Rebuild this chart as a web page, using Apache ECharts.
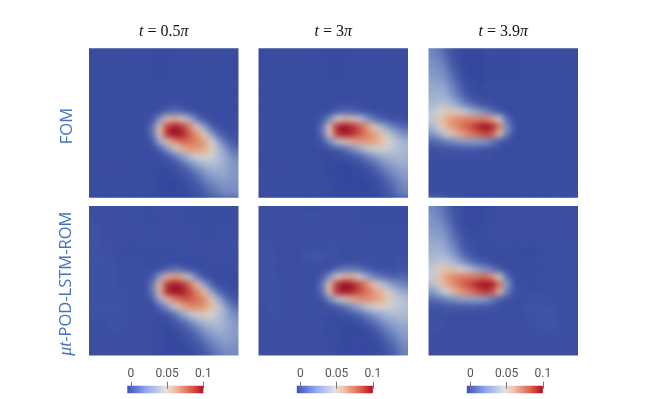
<!DOCTYPE html>
<html><head><meta charset="utf-8">
<style>html,body{margin:0;padding:0;background:#fff}#c{width:660px;height:399px}</style>
<script src="https://cdn.jsdelivr.net/npm/echarts@6/dist/echarts.min.js"></script>
</head><body><div id="c"></div>
<script>
// values in thousandths (100 = 0.1), rows top to bottom
const fomHalfPi=[
[2,2,2,2,2,2,2,2,2,2,2,2,2,2,2,2,2,2,2,2],
[2,2,2,2,2,2,2,2,2,2,2,2,2,2,2,2,2,2,2,2],
[2,2,2,2,2,2,2,2,2,2,2,2,2,2,2,2,2,2,2,2],
[2,2,2,2,2,2,2,2,2,2,2,2,2,2,2,2,2,2,2,2],
[2,2,2,2,2,2,2,2,2,2,2,2,2,2,2,2,2,2,2,2],
[2,2,2,2,2,2,2,2,2,2,2,2,2,2,2,2,2,2,2,2],
[2,2,2,2,2,2,2,2,2,2,2,2,2,2,2,2,2,2,2,2],
[2,2,2,2,2,2,2,2,2,2,3,3,3,2,2,2,2,2,2,2],
[2,2,2,2,2,2,2,2,2,3,12,15,12,6,3,2,2,2,2,2],
[2,2,2,2,2,2,2,2,6,26,56,62,54,38,16,5,2,2,2,2],
[2,2,2,2,2,2,2,2,16,56,86,96,88,72,52,28,9,3,2,2],
[2,2,2,2,2,2,2,2,16,56,90,100,94,80,68,52,28,11,4,3],
[2,2,2,2,2,2,2,2,6,34,58,70,78,76,72,66,50,28,13,6],
[2,2,2,2,2,2,2,2,2,11,28,46,60,67,68,64,54,38,24,13],
[2,2,2,2,2,2,2,2,2,2,7,16,30,42,50,52,48,40,30,22],
[2,2,2,2,2,2,2,2,2,2,3,6,13,23,33,39,41,38,32,26],
[2,2,2,2,2,2,2,2,2,1,1,2,6,11,20,28,33,34,31,27],
[2,2,2,2,2,2,2,2,2,1,0,1,3,6,12,20,26,29,29,26],
[2,2,2,2,2,2,2,2,2,1,0,0,1,4,7,13,19,24,26,25],
[2,2,2,2,2,2,2,2,2,1,0,0,1,2,4,8,14,19,22,23]];
const fom3Pi=[
[2,2,2,2,2,2,2,2,2,2,2,2,2,2,2,2,2,2,2,2],
[2,2,2,2,2,2,2,2,2,2,2,2,2,2,2,2,2,2,2,2],
[2,2,2,2,2,2,2,2,2,2,2,2,2,2,2,2,2,2,2,2],
[2,2,2,2,2,2,2,2,2,2,2,2,2,2,2,2,2,2,2,2],
[2,2,2,2,2,2,2,2,2,2,2,2,2,2,2,2,2,2,2,2],
[2,2,2,2,2,2,2,2,2,2,2,2,2,2,2,2,2,2,2,2],
[2,2,2,2,2,2,2,2,2,2,2,2,2,2,2,2,2,2,2,2],
[2,2,2,2,2,2,2,2,2,2,3,3,3,3,2,2,2,2,2,2],
[2,2,2,2,2,2,2,2,2,3,9,13,11,7,4,3,3,2,2,2],
[2,2,2,2,2,2,2,2,5,22,50,58,56,46,30,16,9,5,4,3],
[2,2,2,2,2,2,2,2,14,56,90,100,92,82,68,54,38,25,17,12],
[2,2,2,2,2,2,2,2,13,54,86,96,90,82,74,66,56,44,32,24],
[2,2,2,2,2,2,2,2,5,22,42,54,62,66,68,66,60,50,42,36],
[2,2,2,2,2,2,2,2,2,4,8,14,24,34,44,48,49,46,42,38],
[2,2,2,2,2,2,2,2,2,1,2,4,7,12,19,27,33,37,38,37],
[2,2,2,2,2,2,2,2,2,1,1,0,2,4,8,15,23,29,33,34],
[2,2,2,2,2,2,2,2,2,1,1,0,0,1,3,7,14,21,27,30],
[2,2,2,2,2,2,2,2,2,2,1,0,0,0,1,3,8,15,21,27],
[2,2,2,2,2,2,2,2,2,2,1,1,0,0,0,1,4,10,17,23],
[2,2,2,2,2,2,2,2,2,2,1,1,0,0,0,1,2,7,13,20]];
const fom39Pi=[
[22,18,10,4,1,1,1,2,2,2,2,2,2,2,2,2,2,2,2,2],
[24,21,13,5,1,0,0,1,2,2,2,2,2,2,2,2,2,2,2,2],
[26,24,17,7,2,0,0,1,2,2,2,2,2,2,2,2,2,2,2,2],
[28,27,21,11,3,1,1,1,2,2,2,2,2,2,2,2,2,2,2,2],
[31,30,25,15,6,2,1,1,2,2,2,2,2,2,2,2,2,2,2,2],
[33,34,29,20,9,3,1,2,2,2,2,2,2,2,2,2,2,2,2,2],
[36,37,34,25,14,6,3,2,2,2,2,2,2,2,2,2,2,2,2,2],
[38,41,41,35,25,16,9,5,2,2,2,2,2,2,2,2,2,2,2,2],
[44,50,54,54,48,40,32,25,16,7,2,2,2,2,2,2,2,2,2,2],
[44,56,64,70,72,72,72,72,64,48,15,3,2,2,2,2,2,2,2,2],
[38,52,62,70,76,82,90,100,96,74,28,4,2,2,2,2,2,2,2,2],
[26,36,48,58,66,72,78,84,80,56,20,3,2,2,2,2,2,2,2,2],
[12,15,20,24,28,30,30,28,20,8,3,2,2,2,2,2,2,2,2,2],
[4,5,6,6,7,7,6,5,4,3,2,2,2,2,2,2,2,2,2,2],
[3,3,3,3,3,3,3,3,3,2,2,2,2,2,2,2,2,2,2,2],
[2,2,2,2,2,2,2,2,2,2,2,2,2,2,2,2,2,2,2,2],
[2,2,2,2,2,2,2,2,2,2,2,2,2,2,2,2,2,2,2,2],
[2,2,2,2,2,2,2,2,2,2,2,2,2,2,2,2,2,2,2,2],
[2,2,2,2,2,2,2,2,2,2,2,2,2,2,2,2,2,2,2,2],
[2,2,2,2,2,2,2,2,2,2,2,2,2,2,2,2,2,2,2,2]];
const romHalfPi=[
[3,3,2,3,3,3,2,2,2,3,3,3,2,2,2,2,2,2,2,2],
[3,3,3,3,3,3,3,3,2,3,3,3,3,2,2,2,2,2,2,2],
[4,4,3,3,3,3,3,3,2,3,3,3,3,3,2,2,2,2,2,3],
[4,4,3,3,3,3,3,3,3,3,3,3,3,3,3,2,2,3,3,3],
[4,4,3,3,3,3,3,3,3,3,3,3,3,3,3,3,3,3,3,3],
[4,4,3,3,3,2,2,3,3,3,3,3,3,3,3,3,3,3,3,3],
[4,4,4,3,3,2,2,2,3,3,3,3,3,3,3,3,3,3,3,3],
[4,4,4,3,3,3,3,3,2,2,2,1,1,1,2,2,3,3,3,3],
[4,4,4,4,3,3,3,3,3,4,12,16,12,6,3,2,2,2,2,2],
[4,4,4,4,3,3,3,3,8,30,60,66,58,42,18,5,2,2,2,2],
[4,4,4,4,3,3,3,3,18,60,88,96,90,76,56,30,10,3,2,2],
[4,4,4,4,4,3,3,3,18,60,92,100,96,84,72,56,30,12,5,3],
[4,4,4,4,4,3,3,3,9,36,60,72,80,80,76,70,54,32,14,7],
[4,4,4,4,4,3,3,3,3,12,28,46,62,70,72,68,58,42,26,14],
[4,4,4,4,4,3,3,3,3,3,7,16,32,44,52,54,50,42,32,23],
[3,3,4,4,4,3,3,3,3,2,3,6,13,23,33,40,42,39,33,27],
[3,3,3,4,4,3,3,3,3,2,1,2,6,11,20,28,34,36,33,29],
[3,3,3,3,3,3,3,3,3,2,1,1,3,6,12,20,27,31,31,28],
[3,3,3,3,3,3,3,3,3,2,1,0,1,4,7,13,20,25,28,26],
[3,3,3,3,3,3,3,3,3,2,1,1,1,2,4,8,14,20,23,24]];
const rom3Pi=[
[3,3,3,3,3,2,2,2,2,3,3,3,2,2,2,2,2,2,2,2],
[3,3,3,3,3,3,3,3,3,3,3,3,3,2,2,2,2,2,2,2],
[3,3,3,3,3,3,3,3,3,3,3,3,3,3,2,2,2,2,3,3],
[3,3,3,3,3,3,3,3,3,3,3,3,3,3,3,3,3,3,3,3],
[3,3,3,3,3,3,3,3,3,3,3,3,3,3,3,3,3,3,3,3],
[4,4,3,3,3,3,3,3,3,4,4,3,3,3,3,3,3,3,3,3],
[4,4,3,3,3,3,5,6,5,4,4,3,3,3,3,3,3,3,3,3],
[4,4,3,3,3,3,4,5,4,3,3,3,3,3,3,3,3,3,4,4],
[4,4,3,3,3,3,3,3,3,4,12,18,18,14,9,6,4,4,4,5],
[4,4,4,3,3,3,3,3,6,26,52,60,60,50,34,22,15,12,12,12],
[4,4,4,3,3,3,3,3,16,58,88,100,96,84,70,56,44,32,25,20],
[4,4,4,3,3,3,3,3,14,56,88,96,92,84,76,68,60,48,38,32],
[4,4,4,3,3,3,3,3,5,22,42,54,62,68,70,68,62,54,46,40],
[3,4,4,3,3,3,3,3,3,4,8,15,25,35,45,50,51,49,45,41],
[3,3,4,3,3,3,3,3,3,3,3,5,8,13,21,29,35,39,40,39],
[3,3,3,3,3,3,3,3,3,2,2,1,2,4,9,16,24,30,34,35],
[3,3,3,3,3,3,3,3,3,2,2,1,1,1,3,7,14,22,28,31],
[3,3,3,3,3,3,3,3,3,2,2,1,0,1,1,3,8,15,22,28],
[3,3,3,3,3,3,3,3,3,2,2,1,1,1,1,2,4,10,17,24],
[3,3,3,3,3,3,3,3,3,3,2,2,1,1,1,2,2,7,13,21]];
const rom39Pi=[
[23,19,12,5,2,1,1,1,2,2,3,3,3,3,3,3,3,3,3,3],
[25,22,14,6,2,1,1,1,2,3,3,3,3,3,3,3,3,3,3,3],
[27,25,18,8,3,1,1,2,2,3,3,3,3,3,3,3,3,3,3,3],
[29,28,22,12,4,2,2,2,3,3,3,3,3,3,3,3,3,3,3,3],
[32,31,26,16,7,3,2,2,3,3,3,3,3,3,3,3,3,3,3,3],
[34,35,30,21,10,4,2,2,2,3,3,2,2,2,2,3,3,3,3,3],
[37,38,35,27,15,7,3,2,2,2,2,2,2,1,2,3,3,3,3,3],
[40,43,43,37,27,17,10,6,3,2,2,2,2,2,2,3,3,3,3,3],
[46,54,56,56,50,42,34,27,18,8,3,2,2,2,2,3,3,3,3,3],
[46,58,66,72,74,74,74,76,68,50,16,3,2,2,3,3,3,3,3,3],
[40,54,64,72,78,84,92,100,98,76,30,5,3,3,3,3,3,3,3,3],
[28,38,50,60,68,74,80,86,82,58,22,5,3,3,3,3,3,3,3,3],
[14,17,22,26,30,32,32,30,22,9,4,3,3,4,4,4,3,3,3,3],
[5,6,7,7,8,8,7,6,5,4,3,3,3,4,5,5,4,3,3,3],
[4,4,4,3,3,3,3,3,3,3,3,3,3,4,5,6,5,3,3,3],
[4,4,3,3,3,3,3,3,3,3,3,3,3,4,4,5,5,4,3,3],
[4,4,3,3,3,3,3,3,3,3,3,3,3,3,4,4,4,3,3,3],
[3,3,3,3,3,3,3,3,3,3,3,3,3,3,3,3,3,3,3,3],
[3,3,3,3,3,3,3,3,3,3,3,3,3,3,3,3,3,3,3,3],
[3,3,3,3,3,3,3,3,3,3,3,3,3,3,3,3,3,3,3,3]];
const panelFields=[fomHalfPi,fom3Pi,fom39Pi,romHalfPi,rom3Pi,rom39Pi];
const timeLabels=['{i|t} = 0.5{i|π}','{i|t} = 3{i|π}','{i|t} = 3.9{i|π}'];
const rowLabels=['FOM','{i|μt}-POD-LSTM-ROM'];
const barTicks=[0,0.05,0.1];
const panelColors=['#34469c','#4a5eac','#6a80bc','#8c9fcb','#b0bcd4','#d4d4d0','#e6b89c','#e28e6e','#d05a48','#b02a30','#960820'];
const barColors=[[0,'#3b4fbe'],[0.25,'#93a8ee'],[0.5,'#e2e2e2'],[0.6,'#f0c8b4'],[0.85,'#dc5a46'],[1,'#b40a28']];

const colX=[89,258.5,428.5], rowY=[48.3,206], size=149.5, N=20, cell=size/N;
const grid=[],xAxis=[],yAxis=[],series=[];
const serif='"Liberation Serif","DejaVu Serif",serif', sans='"Open Sans","Noto Sans",sans-serif';
const hide={axisLine:{show:false},axisTick:{show:false},axisLabel:{show:false},splitLine:{show:false}};
const idx=Array.from({length:N+2},(_,i)=>i);
panelFields.forEach((f,k)=>{
  const c=k%3,r=Math.floor(k/3);
  grid.push({left:colX[c]-cell,top:rowY[r]-cell,width:size+2*cell,height:size+2*cell,show:false});
  xAxis.push({type:'category',gridIndex:k,data:idx,position:'top',zlevel:1,...hide,
    name:r===0?timeLabels[c]:'',nameLocation:'middle',nameGap:1.5,
    nameTextStyle:{fontFamily:serif,fontSize:16,color:'#111',rich:{i:{fontFamily:serif,fontSize:16,fontStyle:'italic',color:'#111'}}}});
  yAxis.push({type:'category',gridIndex:k,data:idx,inverse:true,position:'left',zlevel:1,...hide,
    name:c===0?rowLabels[r]:'',nameLocation:'middle',nameGap:6,
    nameTextStyle:{fontFamily:sans,fontSize:16.5,color:'#4472c4',padding:[0,6,0,0],rich:{i:{fontFamily:serif,fontSize:18,fontStyle:'italic',color:'#4472c4'}}}});
  const data=[];
  for(let y=0;y<N+2;y++)for(let x=0;x<N+2;x++){
    const yy=Math.min(N-1,Math.max(0,y-1)),xx=Math.min(N-1,Math.max(0,x-1));
    data.push([x,y,f[yy][xx]/1000]);
  }
  series.push({type:'heatmap',xAxisIndex:k,yAxisIndex:k,data,progressive:0,animation:false,zlevel:0,itemStyle:{borderWidth:0}});
});
colX.forEach((x,c)=>{
  const g=6+c;
  grid.push({left:x+38.3,top:385.7,width:76,height:7.6,show:true,zlevel:1,borderWidth:0,
    backgroundColor:new echarts.graphic.LinearGradient(0,0,1,0,barColors.map(s=>({offset:s[0],color:s[1]})))});
  xAxis.push({type:'value',gridIndex:g,position:'top',min:-0.005,max:0.1,zlevel:1,offset:-3,
    axisLine:{show:false},splitLine:{show:false},
    axisTick:{show:true,length:7,customValues:barTicks,lineStyle:{color:'#777',width:1}},
    axisLabel:{show:true,customValues:barTicks,margin:9,fontFamily:'Roboto,"Liberation Sans",sans-serif',fontSize:12,color:'#555',
      hideOverlap:false,showMinLabel:true,showMaxLabel:true,formatter:v=>String(v)}});
  yAxis.push({type:'category',gridIndex:g,data:[''],zlevel:1,...hide});
});
const chart=echarts.init(document.getElementById('c'),null,{renderer:'canvas'});
chart.setOption({animation:false,backgroundColor:'transparent',grid,xAxis,yAxis,series,
  visualMap:{show:false,type:'continuous',seriesIndex:[0,1,2,3,4,5],dimension:2,min:0,max:0.1,inRange:{color:panelColors}}});
const base=chart.getDom().querySelectorAll('canvas')[0];
let clip='';
rowY.forEach(y=>colX.forEach(x=>{clip+=`M${x} ${y}h${size}v${size}h${-size}z `;}));
base.style.filter='blur(3px)';
base.style.clipPath=`path('${clip.trim()}')`;
</script></body></html>
